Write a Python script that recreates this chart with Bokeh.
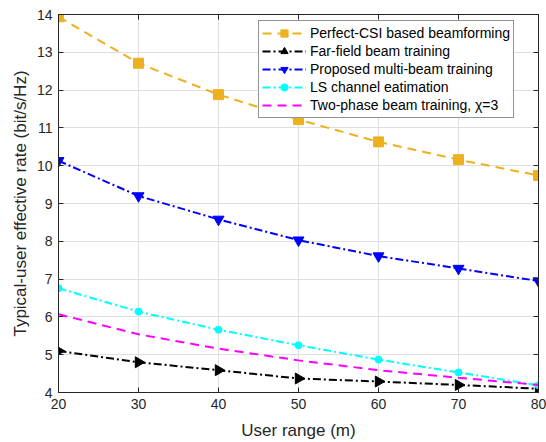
import numpy as np
from bokeh.plotting import figure
from bokeh.models import LinearAxis, Legend, LegendItem, Range1d, FixedTicker, ColumnDataSource
from bokeh.embed import file_html
from bokeh.resources import INLINE

# ---- data ----
user_range = [20, 30, 40, 50, 60, 70, 80]
perfect_csi = [13.94, 12.71, 11.88, 11.22, 10.63, 10.16, 9.74]
far_field = [5.10, 4.80, 4.59, 4.37, 4.29, 4.20, 4.10]
proposed = [10.13, 9.20, 8.58, 8.03, 7.61, 7.28, 6.95]
ls_est = [6.76, 6.14, 5.66, 5.25, 4.87, 4.53, 4.19]
two_phase = [6.07, 5.54, 5.16, 4.85, 4.59, 4.39, 4.20]

x_ticks = [20, 30, 40, 50, 60, 70, 80]
y_ticks = [4, 5, 6, 7, 8, 9, 10, 11, 12, 13, 14]

labels = [
    "Perfect-CSI based beamforming",
    "Far-field beam training",
    "Proposed multi-beam training",
    "LS channel eatimation",
    "Two-phase beam training, \u03c7=3",
]

FONT = "Liberation Sans"
AX = "#262626"

p = figure(width=546, height=442, output_backend="svg", toolbar_location=None,
           x_range=Range1d(20, 80), y_range=Range1d(4, 14),
           min_border_left=58, min_border_right=8, min_border_top=14, min_border_bottom=49,
           x_axis_label="User range (m)",
           y_axis_label="Typical-user effective rate (bit/s/Hz)")
p.background_fill_color = "white"
p.border_fill_color = "white"
p.outline_line_color = AX
p.outline_line_width = 1

for ax in (p.xaxis[0], p.yaxis[0]):
    ax.axis_line_color = AX
    ax.major_tick_line_color = AX
    ax.major_tick_in = 5
    ax.major_tick_out = 0
    ax.minor_tick_line_color = None
    ax.major_label_text_font = FONT
    ax.major_label_text_font_size = "14px"
    ax.major_label_text_color = AX
    ax.axis_label_text_font = FONT
    ax.axis_label_text_font_size = "17px"
    ax.axis_label_text_font_style = "normal"
    ax.axis_label_text_color = AX
p.xaxis[0].ticker = FixedTicker(ticks=x_ticks)
p.yaxis[0].ticker = FixedTicker(ticks=y_ticks)
p.xaxis[0].major_label_standoff = 6
p.yaxis[0].major_label_standoff = 6
p.xaxis[0].axis_label_standoff = 9
p.yaxis[0].axis_label_standoff = 4

# box-style ticks on the top and right edges
for loc, ticks in (("above", x_ticks), ("right", y_ticks)):
    a = LinearAxis(ticker=FixedTicker(ticks=ticks), major_tick_in=5, major_tick_out=0,
                   minor_tick_line_color=None, axis_line_color=AX,
                   major_tick_line_color=AX, major_label_text_font_size="0px",
                   major_label_standoff=0)
    p.add_layout(a, loc)

p.xgrid.ticker = FixedTicker(ticks=x_ticks)
p.ygrid.ticker = FixedTicker(ticks=y_ticks)
p.xgrid.grid_line_color = "#dfdfdf"
p.ygrid.grid_line_color = "#dfdfdf"
p.xgrid.grid_line_width = 1
p.ygrid.grid_line_width = 1

LW = 2
items = []

# Perfect-CSI
l1 = p.line(user_range, perfect_csi, line_color="#EDB120", line_width=LW, line_dash="9 6")
s1 = p.scatter(user_range, perfect_csi, marker="square", size=10,
               fill_color="#EDB120", line_color="#EDB120")
items.append(LegendItem(label=labels[0], renderers=[l1, s1]))

# Far-field (right-pointing triangles)
ff_src = ColumnDataSource(dict(x=user_range, y=far_field,
                               ang=[-np.pi / 2] * len(user_range)))
l2 = p.line(user_range, far_field, line_color="black", line_width=LW, line_dash="8 3 2 3")
s2 = p.scatter("x", "y", source=ff_src, marker="triangle", angle="ang", size=11,
               fill_color="black", line_color="black")
items.append(LegendItem(label=labels[1], renderers=[l2, s2], index=0))

# Proposed
l3 = p.line(user_range, proposed, line_color="#0000FF", line_width=LW, line_dash="8 3 2 3")
s3 = p.scatter(user_range, proposed, marker="inverted_triangle", size=11,
               fill_color="#0000FF", line_color="#0000FF")
items.append(LegendItem(label=labels[2], renderers=[l3, s3]))

# LS
l4 = p.line(user_range, ls_est, line_color="#00FFFF", line_width=LW, line_dash="8 3 2 3")
s4 = p.scatter(user_range, ls_est, marker="circle", size=7,
               fill_color="#00FFFF", line_color="#00FFFF")
items.append(LegendItem(label=labels[3], renderers=[l4, s4]))

# Two-phase
l5 = p.line(user_range, two_phase, line_color="#FF00FF", line_width=LW, line_dash="9 6")
items.append(LegendItem(label=labels[4], renderers=[l5]))

legend = Legend(items=items, location=(200, 274))
legend.label_text_font = FONT
legend.label_text_font_size = "14px"
legend.label_text_color = "black"
legend.glyph_width = 44
legend.glyph_height = 18
legend.label_height = 18
legend.label_standoff = 4
legend.padding = 3
legend.spacing = 0
legend.margin = 0
legend.border_line_color = AX
legend.border_line_width = 1
legend.background_fill_color = "white"
legend.background_fill_alpha = 1
p.add_layout(legend, "center")

open("out.html", "w").write(file_html(p, INLINE))
